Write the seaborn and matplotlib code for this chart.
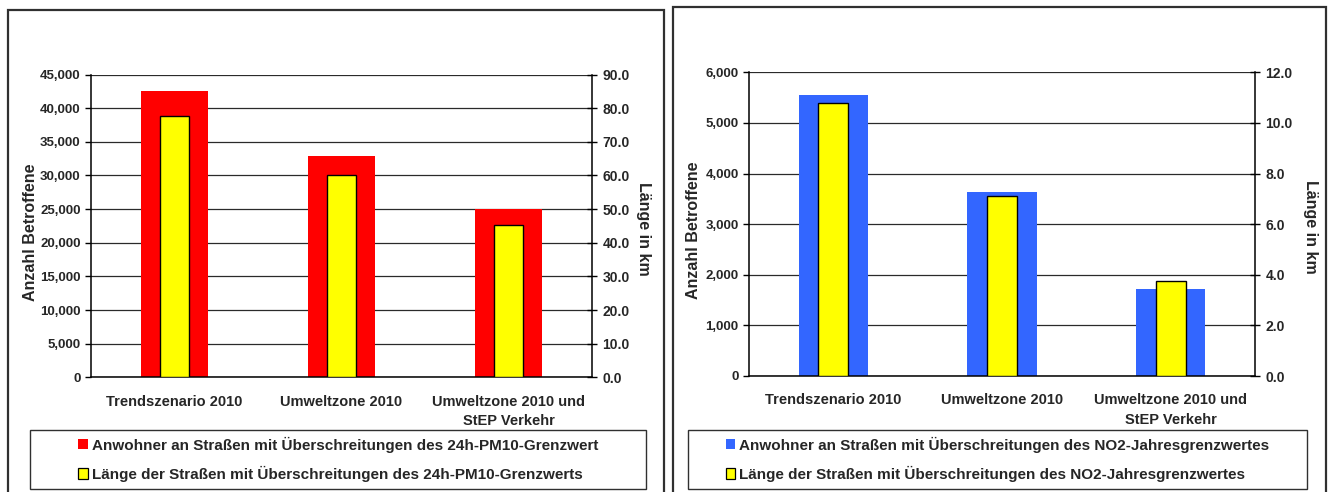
import matplotlib
matplotlib.use("Agg")
import matplotlib.pyplot as plt
import seaborn as sns
from matplotlib.patches import Rectangle, Patch
from matplotlib.ticker import FuncFormatter, FixedLocator

sns.set_style("white")
plt.rcParams['font.family'] = ['Liberation Sans', 'DejaVu Sans']
plt.rcParams['font.weight'] = 'bold'

categories = ["Trendszenario 2010", "Umweltzone 2010", "Umweltzone 2010 und\nStEP Verkehr"]

pm10_residents = [42550, 32900, 24950]
pm10_length_km = [77.8, 60.0, 45.3]
no2_residents = [5550, 3630, 1715]
no2_length_km = [10.8, 7.12, 3.75]

pm10_legend = ["Anwohner an Straßen mit Überschreitungen des 24h-PM10-Grenzwert",
               "Länge der Straßen mit Überschreitungen des 24h-PM10-Grenzwerts"]
no2_legend = ["Anwohner an Straßen mit Überschreitungen des NO2-Jahresgrenzwertes",
              "Länge der Straßen mit Überschreitungen des NO2-Jahresgrenzwertes"]

W, H = 1336, 492
fig = plt.figure(figsize=(W / 100, H / 100), dpi=100)
fig.patch.set_facecolor("white")


def px_rect(x0, y0, x1, y1):
    return [x0 / W, 1 - y1 / H, (x1 - x0) / W, (y1 - y0) / H]


def panel(rect, left_vals, right_vals, left_max, left_step, right_max, right_step,
          main_color, ylab_left_x, ylab_right_x, main_width):
    ax = fig.add_axes(rect)
    sns.barplot(x=categories, y=left_vals, color=main_color, saturation=1,
                width=main_width, ax=ax, linewidth=0, zorder=2)
    ax.set_ylim(0, left_max)
    ax.yaxis.set_major_locator(FixedLocator(list(range(0, left_max + 1, left_step))))
    ax.yaxis.set_major_formatter(FuncFormatter(lambda v, p: f"{v:,.0f}"))
    ax.grid(axis="y", color="#2a2a2a", linewidth=0.9)
    ax.grid(axis="x", visible=False)
    ax.set_axisbelow(True)

    ax2 = ax.twinx()
    sns.barplot(x=categories, y=right_vals, color="#FFFF00", saturation=1,
                width=0.178, ax=ax2, edgecolor="black", linewidth=1.0, zorder=3)
    ax2.set_ylim(0, right_max)
    nticks = int(round(right_max / right_step))
    ax2.yaxis.set_major_locator(FixedLocator([i * right_step for i in range(nticks + 1)]))
    ax2.yaxis.set_major_formatter(FuncFormatter(lambda v, p: f"{v:.1f}"))
    ax2.grid(False)

    for a in (ax, ax2):
        a.set_xlim(-0.5, 2.5)
        a.spines["top"].set_visible(False)
        a.set_xlabel("")
    ax.spines["right"].set_visible(False)
    ax2.spines["left"].set_visible(False)
    ax2.spines["bottom"].set_visible(False)
    for s in ("left", "bottom"):
        ax.spines[s].set_color("black")
        ax.spines[s].set_linewidth(1.1)
    ax2.spines["right"].set_color("black")
    ax2.spines["right"].set_linewidth(1.1)

    ax.set_xticks([0, 1, 2])
    ax.set_xticklabels(categories, fontsize=10.5, fontweight="bold", linespacing=1.5)
    ax.tick_params(axis="x", which="major", length=0, pad=12.5)
    ax.set_xticks([-0.5, 0.5, 1.5, 2.5], minor=True)
    ax.tick_params(axis="x", which="minor", length=5, width=1, direction="out", color="black")
    ax.tick_params(axis="y", which="major", length=4.5, width=1, direction="out",
                   color="black", labelsize=9.5, pad=3)
    ax2.tick_params(axis="y", which="major", length=7, width=1, direction="inout",
                    color="black", labelsize=10, pad=4)
    for lab in ax.get_yticklabels() + ax2.get_yticklabels():
        lab.set_fontweight("bold")

    ax.set_ylabel("Anzahl Betroffene", fontsize=11.5, fontweight="bold")
    ax.yaxis.set_label_coords(ylab_left_x, 0.48)
    ax2.set_ylabel("Länge in km", fontsize=11.5, fontweight="bold", rotation=270,
                   va="center")
    ax2.yaxis.set_label_coords(ylab_right_x, 0.49)
    return ax, ax2


panel(px_rect(91, 74.5, 592, 377.3), pm10_residents, pm10_length_km,
      45000, 5000, 90, 10, "#FF0000", -0.106, 1.103, 0.40)
panel(px_rect(749, 72.3, 1255, 376), no2_residents, no2_length_km,
      6000, 1000, 12, 2, "#3366FF", -0.095, 1.110, 0.41)

# outer panel frames
for (x0, y0, x1) in [(8, 9.7, 664), (672.7, 6.7, 1326)]:
    fig.patches.append(Rectangle((x0 / W, -0.02), (x1 - x0) / W, 1 - y0 / H + 0.02,
                                 transform=fig.transFigure, fill=False,
                                 edgecolor="#303030", linewidth=1.6, clip_on=False))

# legend boxes
for (x0, y0, x1, y1), color, labels in [((30, 430, 646, 488.5), "#FF0000", pm10_legend),
                                        ((688, 430, 1307, 488.5), "#3366FF", no2_legend)]:
    fig.patches.append(Rectangle((x0 / W, 1 - y1 / H), (x1 - x0) / W, (y1 - y0) / H,
                                 transform=fig.transFigure, fill=False,
                                 edgecolor="#303030", linewidth=1.0))
    handles = [Patch(facecolor=color, edgecolor="none"),
               Patch(facecolor="#FFFF00", edgecolor="black", linewidth=0.9)]
    fig.legend(handles, labels, loc="center",
               bbox_to_anchor=(((x0 + x1) / 2) / W, 1 - ((y0 + y1) / 2) / H),
               frameon=False, prop={"size": 11, "weight": "bold"},
               handlelength=0.65, handleheight=0.65, handletextpad=0.25,
               labelspacing=0.85, borderpad=0.2)

fig.savefig("out.png", dpi=100, facecolor="white")
